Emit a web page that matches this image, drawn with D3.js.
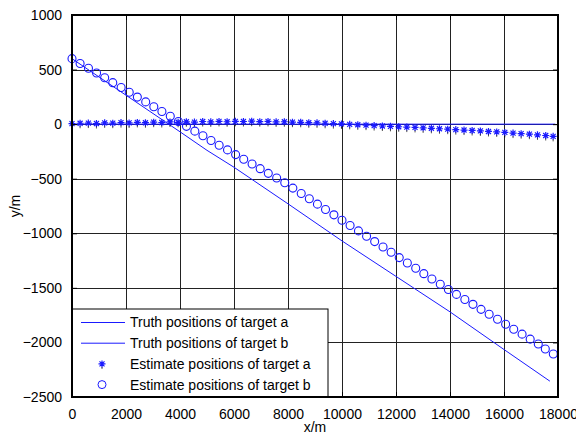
<!DOCTYPE html>
<html>
<head>
<meta charset="utf-8">
<script src="https://cdn.jsdelivr.net/npm/d3@7"></script>
<style>
body { margin: 0; background: #fff; }
text { font-family: "Liberation Sans", Arial, sans-serif; }
</style>
</head>
<body>
<svg id="chart"></svg>
<script>
// ticks
const xTicks = [0, 2000, 4000, 6000, 8000, 10000, 12000, 14000, 16000, 18000]
const yTicks = [1000, 500, 0, -500, -1000, -1500, -2000, -2500]

// truth tracks
const truthAX = [0, 17900]
const truthAY = [0, 0]
const truthBX = [0, 2000, 4000, 5000, 6000, 8000, 10000, 12000, 14000, 16000, 17700]
const truthBY = [600, 265, -70, -240, -395, -730, -1070, -1395, -1720, -2065, -2355]

// estimates, target a (stars)
const estAX = [0, 300, 605, 905, 1210, 1510, 1815, 2115, 2420, 2720,
  3025, 3325, 3630, 3930, 4235, 4535, 4840, 5140, 5445, 5745,
  6050, 6350, 6655, 6955, 7260, 7560, 7865, 8165, 8470, 8770,
  9075, 9375, 9680, 9980, 10285, 10585, 10890, 11190, 11495, 11795,
  12100, 12400, 12705, 13005, 13310, 13610, 13915, 14215, 14520, 14820,
  15125, 15425, 15730, 16030, 16335, 16635, 16940, 17240, 17545, 17820]
const estAY = [5, 8, 10, 6, 12, 9, 14, 11, 16, 13,
  18, 15, 20, 17, 22, 19, 24, 21, 25, 22,
  26, 24, 27, 23, 25, 21, 22, 18, 17, 13,
  12, 8, 5, 2, -2, -6, -9, -13, -17, -20,
  -24, -27, -30, -34, -38, -42, -46, -50, -54, -58,
  -62, -67, -71, -76, -82, -87, -92, -98, -104, -112]

// estimates, target b (circles)
const estBX = [0, 300, 610, 910, 1210, 1510, 1820, 2120, 2420, 2730,
  3030, 3330, 3640, 3940, 4240, 4550, 4850, 5150, 5450, 5760,
  6060, 6360, 6670, 6970, 7270, 7580, 7880, 8180, 8490, 8790,
  9090, 9390, 9700, 10000, 10300, 10610, 10910, 11210, 11520, 11820,
  12120, 12420, 12730, 13030, 13330, 13640, 13940, 14240, 14550, 14850,
  15150, 15450, 15760, 16060, 16360, 16670, 16970, 17270, 17530, 17826]
const estBY = [600, 556, 512, 468, 425, 380, 336, 292, 248, 204,
  160, 116, 72, 24, -20, -64, -107, -150, -193, -236,
  -279, -322, -365, -408, -451, -494, -537, -586, -635, -684,
  -733, -782, -831, -880, -929, -978, -1027, -1076, -1125, -1174,
  -1223, -1272, -1321, -1370, -1419, -1467, -1515, -1560, -1606, -1651,
  -1697, -1742, -1788, -1833, -1879, -1924, -1970, -2015, -2060, -2106]

const legendItems = [
  {label: 'Truth positions of target a', kind: 'line'},
  {label: 'Truth positions of target b', kind: 'line'},
  {label: 'Estimate positions of target a', kind: 'star'},
  {label: 'Estimate positions of target b', kind: 'circle'}
]

let width = 576,
height = 434

let margin = {left: 72, right: 18, top: 15, bottom: 37}
let plotW = width - margin.left - margin.right,
plotH = height - margin.top - margin.bottom

let svg = d3.select('#chart')
.attr('width', width)
.attr('height', height)

svg.append('rect').attr('width', width).attr('height', height).attr('fill', '#fff')

let g = svg.append('g').attr('transform', `translate(${margin.left},${margin.top})`)

let x = d3.scaleLinear().domain([0, 18000]).range([0, plotW])
let y = d3.scaleLinear().domain([-2500, 1000]).range([plotH, 0])

// grid
g.append('g')
.attr('transform', `translate(0,${plotH})`)
.call(d3.axisBottom(x).tickValues(xTicks).tickSize(-plotH).tickFormat(''))
.call(a => a.select('.domain').remove())
.selectAll('line').attr('stroke', '#222').attr('shape-rendering', 'crispEdges')

g.append('g')
.call(d3.axisLeft(y).tickValues(yTicks).tickSize(-plotW).tickFormat(''))
.call(a => a.select('.domain').remove())
.selectAll('line').attr('stroke', '#222').attr('shape-rendering', 'crispEdges')

let blue = '#1a1aff'
let line = d3.line().x(d => x(d[0])).y(d => y(d[1]))

g.append('path')
.datum(d3.zip(truthAX, truthAY))
.attr('d', line).attr('fill', 'none').attr('stroke', blue).attr('stroke-width', 1)

g.append('path')
.datum(d3.zip(truthBX, truthBY))
.attr('d', line).attr('fill', 'none').attr('stroke', blue).attr('stroke-width', 1)

let starPath = 'M-3.5,0H3.5M0,-3.5V3.5M-2.5,-2.5L2.5,2.5M-2.5,2.5L2.5,-2.5'

let drawStar = (sel) => {
    sel.append('path').attr('d', starPath).attr('stroke', blue).attr('stroke-width', 1.2).attr('fill', 'none')
    sel.append('path').attr('d', 'M0,3V5').attr('stroke', '#000').attr('stroke-opacity', 0.7).attr('stroke-width', 1)
}

g.selectAll('.star')
.data(d3.zip(estAX, estAY))
.enter().append('g')
.attr('class', 'star')
.attr('transform', d => `translate(${x(d[0])},${y(d[1])})`)
.call(drawStar)

g.selectAll('.circ')
.data(d3.zip(estBX, estBY))
.enter().append('circle')
.attr('class', 'circ')
.attr('cx', d => x(d[0]))
.attr('cy', d => y(d[1]))
.attr('r', 4)
.attr('fill', 'none')
.attr('stroke', blue)
.attr('stroke-width', 1.1)

// axes with inward ticks on all sides
let styleAxis = a => {
    a.select('.domain').remove()
    a.selectAll('line').attr('stroke', '#000')
    a.selectAll('text').attr('font-size', 14).attr('fill', '#000')
}

g.append('g')
.attr('transform', `translate(0,${plotH})`)
.call(d3.axisBottom(x).tickValues(xTicks).tickSize(-5).tickPadding(12).tickFormat(d3.format('d')))
.call(styleAxis)

g.append('g')
.call(d3.axisLeft(y).tickValues(yTicks).tickSize(-5).tickPadding(10).tickFormat(d3.format('d')))
.call(styleAxis)

g.append('g')
.call(d3.axisTop(x).tickValues(xTicks).tickSize(-5).tickFormat(''))
.call(styleAxis)

g.append('g')
.attr('transform', `translate(${plotW},0)`)
.call(d3.axisRight(y).tickValues(yTicks).tickSize(-5).tickFormat(''))
.call(styleAxis)

// legend
let leg = g.append('g').attr('transform', `translate(0,${plotH - 88})`)
leg.append('rect')
.attr('width', 256).attr('height', 88)
.attr('fill', '#fff').attr('stroke', '#000').attr('stroke-width', 1)

let rows = leg.selectAll('.row')
.data(legendItems)
.enter().append('g')
.attr('class', 'row')
.attr('transform', (d, i) => `translate(0,${13.5 + i * 20.7})`)

rows.filter(d => d.kind === 'line').append('line')
.attr('x1', 9).attr('x2', 53).attr('stroke', blue).attr('stroke-width', 1)
rows.filter(d => d.kind === 'star').append('g').attr('transform', 'translate(30,0)').call(drawStar)
rows.filter(d => d.kind === 'circle').append('circle')
.attr('cx', 30).attr('r', 4).attr('fill', 'none').attr('stroke', blue)

rows.append('text')
.attr('x', 58).attr('dy', '0.35em')
.attr('font-size', 14)
.text(d => d.label)

// box
g.append('rect')
.attr('width', plotW).attr('height', plotH)
.attr('fill', 'none').attr('stroke', '#000').attr('stroke-width', 2)

svg.append('text')
.attr('x', margin.left + plotW / 2).attr('y', 432)
.attr('text-anchor', 'middle').attr('font-size', 14)
.text('x/m')

svg.append('text')
.attr('transform', `translate(20,${margin.top + plotH / 2}) rotate(-90)`)
.attr('text-anchor', 'middle').attr('font-size', 14)
.text('y/m')
</script>
</body>
</html>
